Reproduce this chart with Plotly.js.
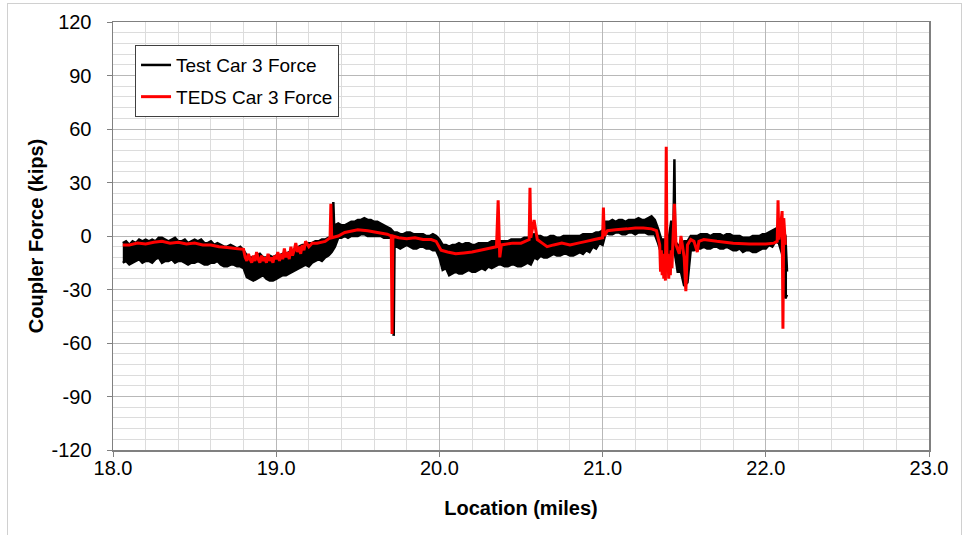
<!DOCTYPE html>
<html>
<head>
<meta charset="utf-8">
<script src="https://cdn.plot.ly/plotly-3.0.1.min.js"></script>
<style>
  html, body { margin: 0; padding: 0; background: #ffffff; }
  #frame { position: absolute; left: 7px; top: 3px; width: 955px; height: 560px; border: 1px solid #d0d0d0; box-sizing: border-box; }
  #chart { position: absolute; left: 0; top: 0; width: 969px; height: 535px; }
</style>
</head>
<body>
<div id="frame"></div>
<div id="chart"></div>
<script>
// ---- Data ----
const testName = "Test Car 3 Force";
const tedsName = "TEDS Car 3 Force";

// Test Car 3 (black): the measured signal is a dense noisy band, read as its upper and lower envelopes
const testTopX = [
 18.06,18.08,18.10,18.12,18.14,18.16,18.18,18.20,18.22,18.24,18.26,18.28,18.30,18.32,18.34,18.36,18.38,18.40,18.42,18.44,
 18.46,18.48,18.50,18.52,18.54,18.56,18.58,18.60,18.62,18.64,18.66,18.68,18.70,18.72,18.74,18.76,18.78,18.80,18.82,18.84,
 18.86,18.88,18.90,18.92,18.94,18.96,18.98,19.00,19.02,19.04,19.06,19.08,19.10,19.12,19.14,19.16,19.18,19.20,19.22,19.24,
 19.26,19.28,19.30,19.32,19.34,19.345,19.35,19.355,19.36,19.38,19.40,19.42,19.44,19.46,19.48,19.50,19.52,19.54,19.56,19.58,
 19.60,19.62,19.64,19.66,19.68,19.70,19.72,19.74,19.76,19.78,19.80,19.82,19.84,19.86,19.88,19.90,19.92,19.94,19.96,19.98,
 20.00,20.02,20.04,20.06,20.08,20.10,20.12,20.14,20.16,20.18,20.20,20.22,20.24,20.26,20.28,20.30,20.32,20.34,20.36,20.38,
 20.40,20.42,20.44,20.46,20.48,20.50,20.52,20.54,20.56,20.58,20.60,20.62,20.64,20.66,20.68,20.70,20.72,20.74,20.76,20.78,
 20.80,20.82,20.84,20.86,20.88,20.90,20.92,20.94,20.96,20.98,21.00,21.02,21.04,21.06,21.08,21.10,21.12,21.14,21.16,21.18,
 21.20,21.22,21.24,21.26,21.28,21.30,21.32,21.34,21.36,21.38,21.40,21.42,21.435,21.44,21.445,21.46,21.48,21.50,21.52,21.54,
 21.56,21.58,21.60,21.62,21.64,21.66,21.68,21.70,21.72,21.74,21.76,21.78,21.80,21.82,21.84,21.86,21.88,21.90,21.92,21.94,
 21.96,21.98,22.00,22.02,22.04,22.06,22.08,22.10,22.12,22.13
];
const testTop = [
 -4,-3,-5,-3,-4,-2,-3,-2,-3,-2,-3,-1,-1,-2,-3,-2,-1,-3,-3,-2,
 -4,-3,-2,-3,-2,-4,-4,-3,-5,-4,-5,-6,-6,-5,-6,-7,-6,-8,-11,-12,
 -12,-11,-10,-12,-12,-11,-12,-11,-11,-10,-10,-9,-8,-7,-6,-5,-5,-4,-4,-3,
 -3,-2,-2,-1,-1,-1,19,6,6,7,6,6,7,8,8,9,9,10,9,9,
 8,8,7,6,5,4,2,2,1,1,2,2,1,1,1,1,0,0,1,0,
 -2,-5,-5,-6,-5,-5,-4,-5,-4,-4,-5,-5,-4,-4,-4,-4,-3,-3,-3,-3,
 -3,-3,-2,-2,-2,-2,-1,-1,0,1,0,0,-1,-1,0,0,-1,-1,0,0,
 0,0,0,0,1,1,1,1,2,2,3,8,8,9,8,9,9,8,9,9,
 9,10,9,9,10,11,9,4,-2,-2,-5,8,8,43,-3,-5,-5,-3,-3,0,
 0,0,1,1,1,0,1,1,1,0,1,1,0,0,0,-1,-1,-1,0,0,
 0,1,1,2,3,4,5,6,0,-20
];
const testBotX = [
 18.06,18.08,18.10,18.12,18.14,18.16,18.18,18.20,18.22,18.24,18.26,18.28,18.30,18.32,18.34,18.36,18.38,18.40,18.42,18.44,
 18.46,18.48,18.50,18.52,18.54,18.56,18.58,18.60,18.62,18.64,18.66,18.68,18.70,18.72,18.74,18.76,18.78,18.80,18.82,18.84,
 18.86,18.88,18.90,18.92,18.94,18.96,18.98,19.00,19.02,19.04,19.06,19.08,19.10,19.12,19.14,19.16,19.18,19.20,19.22,19.24,
 19.26,19.28,19.30,19.32,19.34,19.36,19.38,19.40,19.42,19.44,19.46,19.48,19.50,19.52,19.54,19.56,19.58,19.60,19.62,19.64,
 19.66,19.68,19.70,19.715,19.72,19.725,19.74,19.76,19.78,19.80,19.82,19.84,19.86,19.88,19.90,19.92,19.94,19.96,19.98,20.00,
 20.02,20.04,20.06,20.08,20.10,20.12,20.14,20.16,20.18,20.20,20.22,20.24,20.26,20.28,20.30,20.32,20.34,20.36,20.38,20.40,
 20.42,20.44,20.46,20.48,20.50,20.52,20.54,20.56,20.58,20.60,20.62,20.64,20.66,20.68,20.70,20.72,20.74,20.76,20.78,20.80,
 20.82,20.84,20.86,20.88,20.90,20.92,20.94,20.96,20.98,21.00,21.02,21.04,21.06,21.08,21.10,21.12,21.14,21.16,21.18,21.20,
 21.22,21.24,21.26,21.28,21.30,21.32,21.34,21.36,21.38,21.40,21.42,21.44,21.46,21.48,21.50,21.52,21.54,21.56,21.58,21.60,
 21.62,21.64,21.66,21.68,21.70,21.72,21.74,21.76,21.78,21.80,21.82,21.84,21.86,21.88,21.90,21.92,21.94,21.96,21.98,22.00,
 22.02,22.04,22.06,22.08,22.10,22.12,22.13
];
const testBot = [
 -15,-14,-16,-15,-14,-13,-15,-14,-14,-15,-13,-12,-15,-14,-14,-13,-15,-14,-14,-15,
 -16,-15,-15,-14,-15,-16,-16,-15,-15,-14,-16,-17,-17,-16,-16,-17,-17,-18,-23,-24,
 -25,-24,-23,-22,-24,-25,-25,-24,-23,-22,-22,-21,-20,-19,-18,-17,-16,-17,-15,-14,
 -13,-14,-12,-11,-9,-6,-1,-1,0,-1,0,0,0,1,1,0,0,0,0,0,
 -1,-1,-1,-1,-56,-6,-6,-7,-6,-5,-6,-7,-7,-6,-6,-7,-7,-8,-8,-12,
 -19,-18,-22,-21,-20,-21,-21,-20,-19,-20,-20,-19,-18,-19,-17,-18,-17,-16,-16,-17,
 -17,-16,-16,-17,-17,-16,-15,-16,-12,-13,-11,-12,-12,-11,-10,-11,-11,-10,-10,-11,
 -11,-10,-9,-10,-8,-9,-6,-7,-4,-5,2,1,1,2,2,1,1,2,2,1,
 2,2,2,1,1,1,-4,-10,-18,-18,-10,-8,-20,-20,-28,-26,-8,-8,-7,-7,
 -6,-7,-7,-6,-6,-7,-7,-6,-7,-8,-8,-7,-9,-8,-8,-9,-9,-8,-7,-7,
 -5,-6,-3,-4,-10,-35,-33
];

// TEDS Car 3 (red) – simulated force
const tedsX = [
 18.06,18.10,18.15,18.20,18.25,18.30,18.35,18.40,18.45,18.50,18.55,18.60,18.65,18.70,18.75,18.80,
 18.81,18.82,18.83,18.84,18.85,18.86,18.87,18.88,18.89,18.90,18.91,18.92,18.93,18.94,18.95,18.96,
 18.97,18.98,18.99,19.00,19.01,19.02,19.03,19.04,19.05,19.06,19.07,19.08,19.09,19.10,19.11,19.12,
 19.13,19.14,19.15,19.16,19.17,19.18,19.20,19.22,19.25,19.30,19.33,19.335,19.34,19.38,19.42,19.50,
 19.56,19.62,19.68,19.705,19.71,19.715,19.75,19.80,19.85,19.90,19.95,19.98,20.01,20.05,20.10,20.15,
 20.20,20.25,20.30,20.35,20.36,20.37,20.38,20.45,20.50,20.55,20.555,20.56,20.58,20.60,20.63,20.66,
 20.70,20.75,20.80,20.85,20.90,20.95,21.00,21.005,21.01,21.03,21.08,21.15,21.20,21.25,21.30,21.33,
 21.35,21.355,21.36,21.365,21.37,21.375,21.38,21.385,21.39,21.395,21.40,21.405,21.41,21.415,21.42,21.425,
 21.43,21.44,21.45,21.47,21.48,21.50,21.51,21.52,21.54,21.56,21.58,21.59,21.62,21.70,21.80,21.90,
 22.00,22.05,22.07,22.075,22.08,22.09,22.10,22.105,22.11,22.12
];
const tedsY = [
 -5,-5,-4,-4.5,-3.5,-3,-4,-3.5,-4.5,-4,-5,-5,-6,-6.5,-7,-7.5,
 -12,-14,-10,-13,-15,-11,-14,-9,-13,-15,-11,-14,-12,-15,-10,-14,
 -12,-15,-11,-13,-9,-14,-10,-13,-7,-12,-9,-13,-6,-11,-8,-4,
 -9,-6,-10,-5,-8,-3,-6,-4,-4,-3,-1,18,-1,0,2,3.5,
 3,2,1,0,-55,0,-1,-1.5,-1,-2,-2,-3,-8,-9,-10,-9.5,
 -9,-8,-7,-6,20,-12,-5,-4,-4,-2,27,-1,9,-2,-4,-6,
 -5,-4,-5,-4,-3,-2,-1,16,0,3,3.5,4,4.5,4.5,4,3,
 -5,-20,-8,-22,-10,-24,-12,-25,50,-20,-10,-24,-12,-22,-8,-18,
 -5,18,-5,-10,0,-12,-31,-5,-2,-3,-9,-3,-2,-3,-4,-4.5,
 -4.5,-4,-3,20,-2,5,14,-52,10,-5
];

// Axis tick labels
const xTickVals = [18, 19, 20, 21, 22, 23];
const xTickText = ["18.0", "19.0", "20.0", "21.0", "22.0", "23.0"];
const yTickVals = [-120, -90, -60, -30, 0, 30, 60, 90, 120];
const yTickText = ["-120", "-90", "-60", "-30", "0", "30", "60", "90", "120"];

const FONT = "'Liberation Sans', Arial, sans-serif";

const traces = [
  {
    x: testTopX, y: testTop, name: testName, type: "scatter", mode: "lines",
    line: { color: "#000000", width: 2.5, simplify: false },
    legendgroup: "a"
  },
  {
    x: testBotX, y: testBot, name: testName, type: "scatter", mode: "lines",
    line: { color: "#000000", width: 2.5, simplify: false },
    fill: "tonexty", fillcolor: "#000000",
    legendgroup: "a", showlegend: false
  },
  {
    x: tedsX, y: tedsY, name: tedsName, type: "scatter", mode: "lines",
    line: { color: "#ff0000", width: 3, simplify: false },
    legendgroup: "b"
  }
];

const layout = {
  width: 969, height: 535,
  margin: { l: 113, r: 40, t: 22, b: 85 },
  paper_bgcolor: "rgba(0,0,0,0)",
  plot_bgcolor: "#ffffff",
  font: { family: FONT, size: 20, color: "#000000" },
  showlegend: true,
  legend: {
    x: 0.027, y: 0.946, xanchor: "left", yanchor: "top",
    bgcolor: "#ffffff", bordercolor: "#404040", borderwidth: 1,
    font: { family: FONT, size: 19, color: "#000000" },
    itemwidth: 30, tracegroupgap: 4
  },
  xaxis: {
    range: [18, 23], tickvals: xTickVals, ticktext: xTickText,
    showgrid: true, gridcolor: "#b8b8b8", gridwidth: 1,
    minor: { dtick: 0.2, showgrid: true, gridcolor: "#dcdcdc", gridwidth: 1, ticks: "" },
    showline: true, linecolor: "#808080", linewidth: 1.5, mirror: true,
    ticks: "outside", ticklen: 5, tickcolor: "#808080",
    ticklabelstandoff: -6,
    zeroline: false,
    tickfont: { family: FONT, size: 20 },
    title: { text: "<b>Location (miles)</b>", font: { family: FONT, size: 20 }, standoff: 23 }
  },
  yaxis: {
    range: [-120, 120], tickvals: yTickVals, ticktext: yTickText,
    showgrid: true, gridcolor: "#b8b8b8", gridwidth: 1,
    minor: { dtick: 6, showgrid: true, gridcolor: "#dcdcdc", gridwidth: 1, ticks: "" },
    showline: true, linecolor: "#808080", linewidth: 1.5, mirror: true,
    ticks: "outside", ticklen: 5, tickcolor: "#808080",
    ticklabelstandoff: 11,
    zeroline: false,
    tickfont: { family: FONT, size: 20 },
    title: { text: "<b>Coupler Force (kips)</b>", font: { family: FONT, size: 20 }, standoff: 2 }
  }
};

Plotly.newPlot("chart", traces, layout, { displayModeBar: false, staticPlot: true });
</script>
</body>
</html>
